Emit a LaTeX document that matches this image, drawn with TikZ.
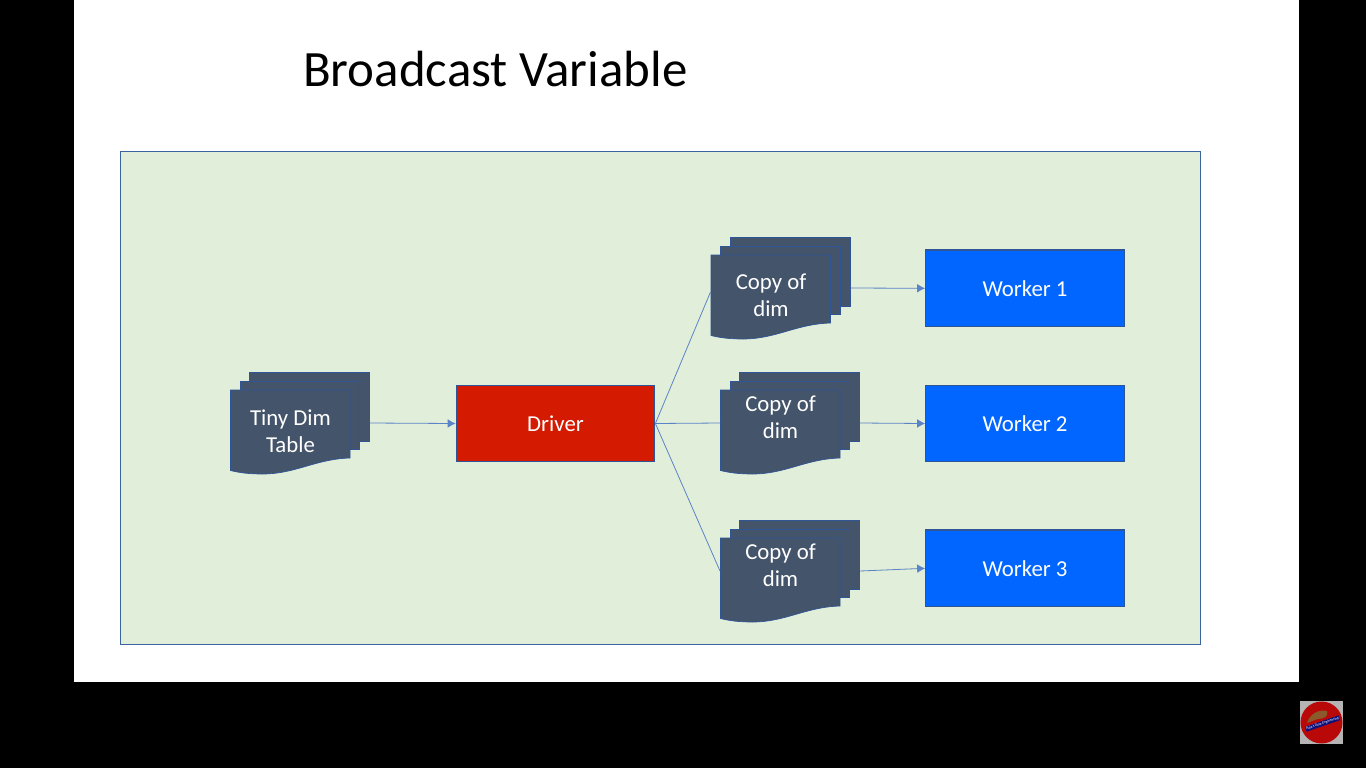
\documentclass[tikz,border=0pt]{standalone}
\usepackage{fontspec}
\setmainfont{Carlito}
\usetikzlibrary{arrows.meta}
\definecolor{panelfill}{HTML}{E1EED9}
\definecolor{panelline}{HTML}{3A63A0}
\definecolor{docfill}{HTML}{44546A}
\definecolor{docline}{HTML}{2F5597}
\definecolor{workerblue}{HTML}{0066FF}
\definecolor{driverred}{HTML}{D41A00}
\definecolor{arrowblue}{HTML}{5B84C8}
\definecolor{logored}{HTML}{B80808}
\definecolor{logogray}{HTML}{B4B4B4}
\definecolor{logoblue}{HTML}{10107A}
\definecolor{logobrown}{HTML}{8A5A2A}
\tikzset{
  boxnode/.style={draw=docline,line width=0.8pt,minimum width=149pt,minimum height=57.5pt,inner sep=0pt,text=white,font=\fontsize{17.1}{20}\selectfont},
  sheet/.style={fill=docfill,draw=docline,line width=0.5pt},
  hull/.style={minimum width=104.6pt,minimum height=76.5pt,inner sep=0pt},
  doclabel/.style={text=white,align=center,font=\fontsize{17.1}{20.3}\selectfont,inner sep=0pt},
  conn/.style={draw=arrowblue,line width=0.6pt},
  arrowconn/.style={conn,-{Latex[length=6pt,width=6.5pt]}},
}
% #1 name, #2 left, #3 top, #4 text, #5 text centre below the top
\newcommand{\multidoc}[5]{%
  \begin{scope}[shift={(#2,#3)}]
    \path[sheet] (19,0) -- (139,0) -- (139,69) -- (19,69) -- cycle;
    \path[sheet] (9.5,9) -- (129,9) -- (129,77) -- (9.5,77) -- cycle;
    \path[sheet] (0,18) -- (119.5,18) -- (119.5,86)
       .. controls (85,87) and (65,102) .. (32,102)
       .. controls (20,102) and (10,101) .. (0,98.5) -- cycle;
    \node[doclabel] (#1-text) at (60,#5) {#4};
    \node[hull] (#1) at (69.5,51) {};
  \end{scope}}
\begin{document}
\begin{tikzpicture}[x=0.75pt,y=-0.75pt]
\useasboundingbox (0,0) rectangle (1366,768);
\fill[black] (0,0) rectangle (1366,768);
\fill[white] (74,0) rectangle (1299,682);
\node[anchor=west,inner sep=0pt,font=\fontsize{38.2}{44}\selectfont] (title) at (303,68.5) {Broadcast Variable};
\node[draw=panelline,fill=panelfill,line width=0.8pt,minimum width=809.6pt,minimum height=369.75pt,inner sep=0pt] (panel) at (660.5,398) {};
\multidoc{tiny}{230.5}{372}{Tiny Dim\\Table}{59.5}
\multidoc{copya}{711}{237}{Copy of\\dim}{58.5}
\multidoc{copyb}{720.5}{372}{Copy of\\dim}{45}
\multidoc{copyc}{720.5}{520}{Copy of\\dim}{45}
\node[boxnode,fill=driverred] (driver) at (555.5,423.5) {Driver};
\node[boxnode,fill=workerblue] (worker1) at (1025,288.3) {Worker 1};
\node[boxnode,fill=workerblue] (worker2) at (1025,423.5) {Worker 2};
\node[boxnode,fill=workerblue] (worker3) at (1025,568.3) {Worker 3};
\draw[arrowconn] (tiny.east) -- (driver.west);
\draw[conn] (driver.east) -- ([yshift=-3pt]copya.west);
\draw[conn] (driver.east) -- (copyb.west);
\draw[conn] (driver.east) -- (copyc.west);
\draw[arrowconn] (copya.east) -- (worker1.west);
\draw[arrowconn] (copyb.east) -- (worker2.west);
\draw[arrowconn] (copyc.east) -- (worker3.west);
% channel logo
\fill[logogray] (1300,701) rectangle (1343,744);
\fill[logored] (1321.5,722.5) circle[radius=21];
\fill[logobrown] (1307,723) .. controls (1310,714) and (1318,709) .. (1327,711) .. controls (1329,716) and (1324,719) .. (1318,719) .. controls (1314,720) and (1310,722) .. (1307,723) -- cycle;
\node[fill=logoblue,text=white,rotate=19,inner xsep=0.5pt,inner ysep=0.7pt,font=\fontsize{2.7}{3}\selectfont] (logotext) at (1322.5,723.5) {Raja's Data Engineering};
\end{tikzpicture}
\end{document}
